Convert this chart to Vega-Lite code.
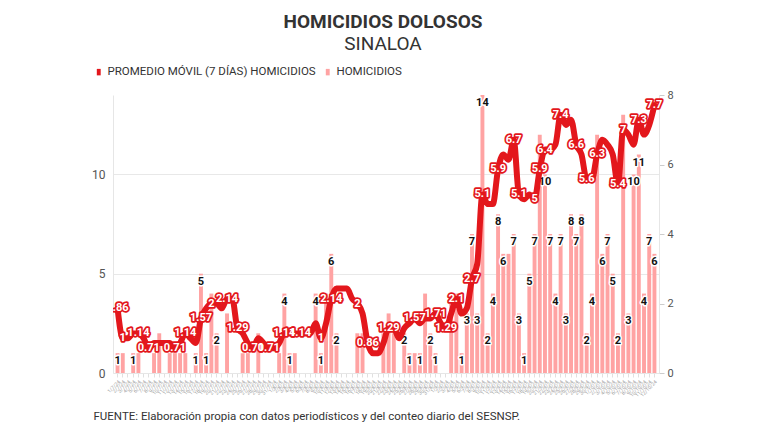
{
"$schema": "https://vega.github.io/schema/vega-lite/v6.json",
"width": 546, "height": 278,
"autosize": {"type": "none"},
"padding": {"left": 113, "top": 95, "right": 109, "bottom": 59},
"background": "white",
"config": {"font": "Roboto", "view": {"stroke": null}},
"title": {"text": "HOMICIDIOS DOLOSOS", "subtitle": "SINALOA", "anchor": "middle", "frame": "group", "dx": -3, "fontSize": 19, "fontWeight": "bold", "color": "#333333", "subtitleFontSize": 19, "subtitleColor": "#333333", "subtitleFontWeight": "normal", "subtitlePadding": 3, "offset": 12},
"data": {"values": [
{"fecha":"1/7/24","h":1,"hl":"1","pm":1.86,"pl":"1.86"},
{"fecha":"2/7/24","h":1,"hl":"","pm":1.0,"pl":"1"},
{"fecha":"3/7/24","h":0,"hl":"","pm":1.0,"pl":""},
{"fecha":"4/7/24","h":1,"hl":"1","pm":1.14,"pl":""},
{"fecha":"5/7/24","h":1,"hl":"","pm":1.14,"pl":"1.14"},
{"fecha":"6/7/24","h":0,"hl":"","pm":1.0,"pl":""},
{"fecha":"7/7/24","h":0,"hl":"","pm":0.71,"pl":"0.71"},
{"fecha":"8/7/24","h":1,"hl":"","pm":0.86,"pl":""},
{"fecha":"9/7/24","h":2,"hl":"","pm":0.86,"pl":""},
{"fecha":"10/7/24","h":0,"hl":"","pm":0.86,"pl":""},
{"fecha":"11/7/24","h":1,"hl":"","pm":0.86,"pl":""},
{"fecha":"12/7/24","h":1,"hl":"","pm":0.71,"pl":"0.71"},
{"fecha":"13/7/24","h":1,"hl":"","pm":0.86,"pl":""},
{"fecha":"14/7/24","h":1,"hl":"","pm":1.14,"pl":"1.14"},
{"fecha":"15/7/24","h":0,"hl":"","pm":1.0,"pl":""},
{"fecha":"16/7/24","h":1,"hl":"1","pm":0.86,"pl":""},
{"fecha":"17/7/24","h":5,"hl":"5","pm":1.57,"pl":"1.57"},
{"fecha":"18/7/24","h":1,"hl":"1","pm":1.86,"pl":""},
{"fecha":"19/7/24","h":4,"hl":"","pm":2.0,"pl":"2"},
{"fecha":"20/7/24","h":2,"hl":"2","pm":2.0,"pl":""},
{"fecha":"21/7/24","h":0,"hl":"","pm":1.86,"pl":""},
{"fecha":"22/7/24","h":3,"hl":"","pm":2.14,"pl":"2.14"},
{"fecha":"23/7/24","h":0,"hl":"","pm":2.14,"pl":""},
{"fecha":"24/7/24","h":0,"hl":"","pm":1.29,"pl":"1.29"},
{"fecha":"25/7/24","h":1,"hl":"","pm":1.14,"pl":""},
{"fecha":"26/7/24","h":1,"hl":"","pm":0.86,"pl":""},
{"fecha":"27/7/24","h":0,"hl":"","pm":0.71,"pl":"0.71"},
{"fecha":"28/7/24","h":2,"hl":"","pm":1.0,"pl":""},
{"fecha":"29/7/24","h":0,"hl":"","pm":0.86,"pl":""},
{"fecha":"30/7/24","h":0,"hl":"","pm":0.71,"pl":"0.71"},
{"fecha":"31/7/24","h":0,"hl":"","pm":0.71,"pl":""},
{"fecha":"1/8/24","h":1,"hl":"","pm":0.86,"pl":""},
{"fecha":"2/8/24","h":4,"hl":"4","pm":1.14,"pl":"1.14"},
{"fecha":"3/8/24","h":1,"hl":"1","pm":1.14,"pl":""},
{"fecha":"4/8/24","h":1,"hl":"","pm":1.14,"pl":""},
{"fecha":"5/8/24","h":0,"hl":"","pm":1.14,"pl":"1.14"},
{"fecha":"6/8/24","h":0,"hl":"","pm":1.14,"pl":""},
{"fecha":"7/8/24","h":0,"hl":"","pm":1.14,"pl":""},
{"fecha":"8/8/24","h":4,"hl":"4","pm":1.43,"pl":""},
{"fecha":"9/8/24","h":1,"hl":"1","pm":1.0,"pl":"1"},
{"fecha":"10/8/24","h":4,"hl":"","pm":1.43,"pl":""},
{"fecha":"11/8/24","h":6,"hl":"6","pm":2.14,"pl":"2.14"},
{"fecha":"12/8/24","h":2,"hl":"2","pm":2.43,"pl":""},
{"fecha":"13/8/24","h":0,"hl":"","pm":2.43,"pl":""},
{"fecha":"14/8/24","h":0,"hl":"","pm":2.43,"pl":""},
{"fecha":"15/8/24","h":0,"hl":"","pm":2.14,"pl":""},
{"fecha":"16/8/24","h":2,"hl":"","pm":2.0,"pl":"2"},
{"fecha":"17/8/24","h":2,"hl":"","pm":1.71,"pl":""},
{"fecha":"18/8/24","h":0,"hl":"","pm":0.86,"pl":"0.86"},
{"fecha":"19/8/24","h":0,"hl":"","pm":0.57,"pl":""},
{"fecha":"20/8/24","h":0,"hl":"","pm":0.57,"pl":""},
{"fecha":"21/8/24","h":2,"hl":"","pm":0.86,"pl":""},
{"fecha":"22/8/24","h":3,"hl":"","pm":1.29,"pl":"1.29"},
{"fecha":"23/8/24","h":2,"hl":"","pm":1.29,"pl":""},
{"fecha":"24/8/24","h":0,"hl":"","pm":1.0,"pl":""},
{"fecha":"25/8/24","h":2,"hl":"2","pm":1.29,"pl":""},
{"fecha":"26/8/24","h":1,"hl":"1","pm":1.43,"pl":""},
{"fecha":"27/8/24","h":1,"hl":"","pm":1.57,"pl":"1.57"},
{"fecha":"28/8/24","h":1,"hl":"1","pm":1.43,"pl":""},
{"fecha":"29/8/24","h":4,"hl":"","pm":1.57,"pl":""},
{"fecha":"30/8/24","h":2,"hl":"2","pm":1.57,"pl":""},
{"fecha":"31/8/24","h":1,"hl":"1","pm":1.71,"pl":"1.71"},
{"fecha":"1/9/24","h":0,"hl":"","pm":1.43,"pl":""},
{"fecha":"2/9/24","h":0,"hl":"","pm":1.29,"pl":"1.29"},
{"fecha":"3/9/24","h":4,"hl":"","pm":1.71,"pl":""},
{"fecha":"4/9/24","h":4,"hl":"","pm":2.14,"pl":"2.1"},
{"fecha":"5/9/24","h":1,"hl":"1","pm":1.71,"pl":""},
{"fecha":"6/9/24","h":3,"hl":"3","pm":1.86,"pl":""},
{"fecha":"7/9/24","h":7,"hl":"7","pm":2.71,"pl":"2.7"},
{"fecha":"8/9/24","h":3,"hl":"3","pm":3.14,"pl":""},
{"fecha":"9/9/24","h":14,"hl":"14","pm":5.14,"pl":"5.1"},
{"fecha":"10/9/24","h":2,"hl":"2","pm":4.86,"pl":""},
{"fecha":"11/9/24","h":4,"hl":"4","pm":4.86,"pl":""},
{"fecha":"12/9/24","h":8,"hl":"8","pm":5.86,"pl":"5.9"},
{"fecha":"13/9/24","h":6,"hl":"6","pm":6.29,"pl":""},
{"fecha":"14/9/24","h":6,"hl":"","pm":6.14,"pl":""},
{"fecha":"15/9/24","h":7,"hl":"7","pm":6.71,"pl":"6.7"},
{"fecha":"16/9/24","h":3,"hl":"3","pm":5.14,"pl":"5.1"},
{"fecha":"17/9/24","h":1,"hl":"1","pm":5.0,"pl":""},
{"fecha":"18/9/24","h":5,"hl":"5","pm":5.14,"pl":""},
{"fecha":"19/9/24","h":7,"hl":"7","pm":5.0,"pl":"5"},
{"fecha":"20/9/24","h":12,"hl":"","pm":5.86,"pl":"5.9"},
{"fecha":"21/9/24","h":10,"hl":"10","pm":6.43,"pl":"6.4"},
{"fecha":"22/9/24","h":7,"hl":"7","pm":6.43,"pl":""},
{"fecha":"23/9/24","h":4,"hl":"4","pm":6.57,"pl":""},
{"fecha":"24/9/24","h":7,"hl":"7","pm":7.43,"pl":"7.4"},
{"fecha":"25/9/24","h":3,"hl":"3","pm":7.14,"pl":""},
{"fecha":"26/9/24","h":8,"hl":"8","pm":7.29,"pl":""},
{"fecha":"27/9/24","h":7,"hl":"7","pm":6.57,"pl":"6.6"},
{"fecha":"28/9/24","h":8,"hl":"8","pm":6.29,"pl":""},
{"fecha":"29/9/24","h":2,"hl":"2","pm":5.57,"pl":"5.6"},
{"fecha":"30/9/24","h":4,"hl":"4","pm":5.57,"pl":""},
{"fecha":"1/10/24","h":12,"hl":"","pm":6.29,"pl":"6.3"},
{"fecha":"2/10/24","h":6,"hl":"6","pm":6.71,"pl":""},
{"fecha":"3/10/24","h":7,"hl":"7","pm":6.57,"pl":""},
{"fecha":"4/10/24","h":5,"hl":"5","pm":6.29,"pl":""},
{"fecha":"5/10/24","h":2,"hl":"2","pm":5.43,"pl":"5.4"},
{"fecha":"6/10/24","h":13,"hl":"","pm":7.0,"pl":"7"},
{"fecha":"7/10/24","h":3,"hl":"3","pm":6.86,"pl":""},
{"fecha":"8/10/24","h":10,"hl":"10","pm":6.57,"pl":""},
{"fecha":"9/10/24","h":11,"hl":"11","pm":7.29,"pl":"7.3"},
{"fecha":"10/10/24","h":4,"hl":"4","pm":6.86,"pl":""},
{"fecha":"11/10/24","h":7,"hl":"7","pm":7.14,"pl":""},
{"fecha":"12/10/24","h":6,"hl":"6","pm":7.71,"pl":"7.7"}
]},
"encoding": {
  "x": {"field": "fecha", "type": "ordinal", "sort": null,
    "scale": {"paddingInner": 0.25, "paddingOuter": 0.5},
    "axis": {"title": "FUENTE: Elaboración propia con datos periodísticos y del conteo diario del SESNSP.",
      "titleAnchor": "start", "titleAlign": "left", "titleX": -20, "titleY": 43, "titleBaseline": "middle",
      "titleFontSize": 11.5, "titleFontWeight": "normal", "titleColor": "#333333",
      "labelAngle": -45, "labelFontSize": 5, "labelColor": "#999999", "labelOverlap": false, "labelPadding": 2,
      "tickColor": "#e0e0e0", "tickSize": 4, "domainColor": "#e6e6e6"}}
},
"layer": [
  {"layer": [
    {"mark": {"type": "bar", "color": "#ffb0b0"},
     "encoding": {
       "y": {"field": "h", "type": "quantitative", "scale": {"domain": [0, 14], "nice": false},
         "axis": {"title": null, "values": [0, 5, 10], "labelFontSize": 12, "labelColor": "#555555", "tickSize": 0, "labelPadding": 8, "domainColor": "#e6e6e6", "gridColor": "#e8e8e8", "grid": true}},
       "color": {"datum": "HOMICIDIOS", "type": "nominal",
         "scale": {"domain": ["PROMEDIO MÓVIL (7 DÍAS) HOMICIDIOS", "HOMICIDIOS"], "range": ["#e3171c", "#ffa3a3"]},
         "legend": {"title": null, "orient": "none", "legendX": -20, "legendY": -29, "direction": "horizontal",
           "symbolType": "M-0.6,-1H0.6V1H-0.6Z", "symbolSize": 42, "symbolStrokeWidth": 0, "labelLimit": 0,
           "labelFontSize": 11.5, "labelColor": "#333333", "labelOffset": 3, "columnPadding": 6}}
     }},
    {"transform": [{"filter": "datum.hl != ''"}],
     "mark": {"type": "text", "dy": 8, "fontSize": 11, "fontWeight": "bold", "stroke": "white", "strokeWidth": 3, "fill": "white", "strokeJoin": "round"},
     "encoding": {"y": {"field": "h", "type": "quantitative"}, "text": {"field": "hl"}}},
    {"transform": [{"filter": "datum.hl != ''"}],
     "mark": {"type": "text", "dy": 8, "fontSize": 11, "fontWeight": "bold", "fill": "#111111"},
     "encoding": {"y": {"field": "h", "type": "quantitative"}, "text": {"field": "hl"}}}
  ]},
  {"layer": [
    {"mark": {"type": "line", "interpolate": "monotone", "strokeWidth": 6, "strokeCap": "round", "strokeJoin": "round"},
     "encoding": {
       "y": {"field": "pm", "type": "quantitative", "scale": {"domain": [0, 8], "nice": false},
         "axis": {"title": null, "orient": "right", "values": [0, 2, 4, 6, 8], "grid": false, "labelFontSize": 11, "labelColor": "#555555", "tickColor": "#cccccc", "tickSize": 5, "domainColor": "#e6e6e6", "labelPadding": 3}},
       "color": {"datum": "PROMEDIO MÓVIL (7 DÍAS) HOMICIDIOS", "type": "nominal", "legend": null}
     }},
    {"transform": [{"filter": "datum.pl != '' && datum.fecha != '1/7/24'"}],
     "mark": {"type": "text", "fontSize": 11, "fontWeight": "bold", "stroke": "#e3171c", "strokeWidth": 3.5, "fill": "#e3171c", "strokeJoin": "round"},
     "encoding": {"y": {"field": "pm", "type": "quantitative"}, "text": {"field": "pl"}}},
    {"transform": [{"filter": "datum.pl != '' && datum.fecha != '1/7/24'"}],
     "mark": {"type": "text", "fontSize": 11, "fontWeight": "bold", "fill": "white"},
     "encoding": {"y": {"field": "pm", "type": "quantitative"}, "text": {"field": "pl"}}},
    {"transform": [{"filter": "datum.fecha == '1/7/24'"}],
     "mark": {"type": "text", "clip": true, "fontSize": 11, "fontWeight": "bold", "stroke": "#e3171c", "strokeWidth": 3.5, "fill": "#e3171c", "strokeJoin": "round"},
     "encoding": {"y": {"field": "pm", "type": "quantitative"}, "text": {"field": "pl"}}},
    {"transform": [{"filter": "datum.fecha == '1/7/24'"}],
     "mark": {"type": "text", "clip": true, "fontSize": 11, "fontWeight": "bold", "fill": "white"},
     "encoding": {"y": {"field": "pm", "type": "quantitative"}, "text": {"field": "pl"}}}
  ]}
],
"resolve": {"scale": {"y": "independent"}}
}
